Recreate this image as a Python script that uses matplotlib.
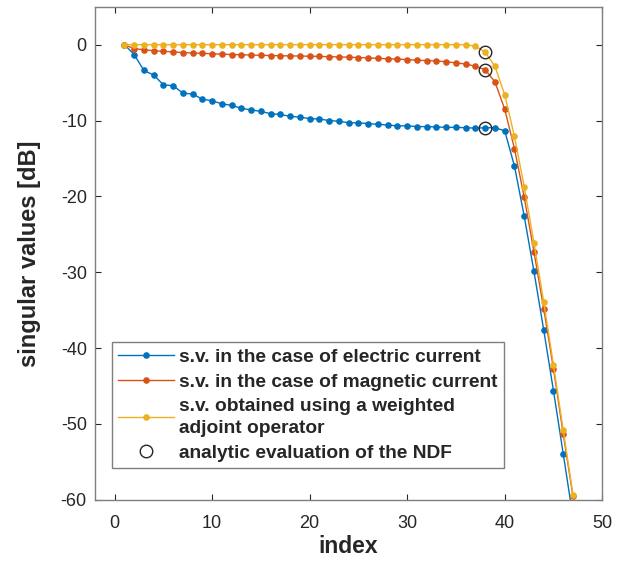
import numpy as np
import matplotlib.pyplot as plt

plt.rcParams['font.family'] = ['Liberation Sans', 'DejaVu Sans']
plt.rcParams['axes.unicode_minus'] = False

# singular values [dB] vs index
INDEX = np.arange(1, 48)
SV_ELECTRIC = [0.0, -1.3, -3.4, -4.0, -5.3, -5.4, -6.4, -6.5, -7.2, -7.4,
               -7.8, -8.0, -8.4, -8.6, -8.8, -9.1, -9.2, -9.45, -9.55, -9.75,
               -9.8, -10.0, -10.1, -10.3, -10.3, -10.4, -10.5, -10.6, -10.7, -10.7,
               -10.8, -10.8, -10.85, -10.9, -10.9, -10.95, -11.0, -10.95, -10.95, -11.35,
               -16.0, -22.6, -29.9, -37.6, -45.6, -53.9, -62.3]
SV_MAGNETIC = [0.0, -0.53, -0.66, -0.8, -0.88, -0.95, -1.05, -1.1, -1.15, -1.2,
               -1.25, -1.3, -1.33, -1.37, -1.4, -1.43, -1.46, -1.48, -1.5, -1.52,
               -1.55, -1.58, -1.62, -1.65, -1.7, -1.74, -1.8, -1.86, -1.9, -1.97,
               -2.05, -2.1, -2.15, -2.25, -2.4, -2.55, -2.85, -3.3, -4.9, -8.5,
               -13.7, -20.1, -27.3, -34.8, -42.7, -51.3, -59.5]
SV_WEIGHTED = [0.0] * 36 + [-0.2, -0.97, -2.85, -6.6,
                            -12.1, -18.7, -26.1, -33.9, -42.2, -50.8, -59.3]

# analytic NDF estimate
NDF_INDEX = [38, 38, 38]
NDF_VALUES = [-10.95, -3.3, -0.97]

BLUE = '#0072BD'
RED = '#D95319'
YELLOW = '#EDB120'
GREY = '#262626'

fig = plt.figure(figsize=(6.26, 5.61), dpi=100)
ax = fig.add_axes([0.152, 0.109, 0.810, 0.879])

ax.plot(INDEX, SV_ELECTRIC, '.-', color=BLUE, lw=1, ms=7.5,
        label='s.v. in the case of electric current')
ax.plot(INDEX, SV_MAGNETIC, '.-', color=RED, lw=1, ms=7.5,
        label='s.v. in the case of magnetic current')
ax.plot(INDEX, SV_WEIGHTED, '.-', color=YELLOW, lw=1, ms=7.5,
        label='s.v. obtained using a weighted\nadjoint operator')
ax.plot(NDF_INDEX, NDF_VALUES, 'o', mfc='none', mec=GREY, mew=1, ms=9,
        label='analytic evaluation of the NDF')

ax.set_xlim(-2, 50)
ax.set_ylim(-60, 5)
ax.set_xticks(np.arange(0, 51, 10))
ax.set_yticks(np.arange(-60, 1, 10))

ax.tick_params(direction='in', top=True, right=True, length=4, width=0.8,
               colors=GREY, labelsize=13, labelcolor=GREY)
ax.tick_params(axis='x', pad=11)
ax.tick_params(axis='y', pad=6)
for sp in ax.spines.values():
    sp.set_color('#7f7f7f')
    sp.set_linewidth(1)

ax.set_xlabel('index', fontsize=16.5, fontweight='bold', color=GREY, labelpad=2)
ax.set_ylabel('singular values [dB]', fontsize=17, fontweight='bold', color=GREY, labelpad=14)

leg = ax.legend(loc='lower left', bbox_to_anchor=(0.034, 0.065), fancybox=False,
                framealpha=1, edgecolor='#7f7f7f', borderpad=0.3, borderaxespad=0,
                handlelength=2.9, handletextpad=0.3, labelspacing=0.4,
                prop={'weight': 'bold', 'size': 13.8})
leg.get_frame().set_linewidth(1)
for t in leg.get_texts():
    t.set_color(GREY)
    t.set_linespacing(1.35)

fig.savefig('out.png', dpi=100)
